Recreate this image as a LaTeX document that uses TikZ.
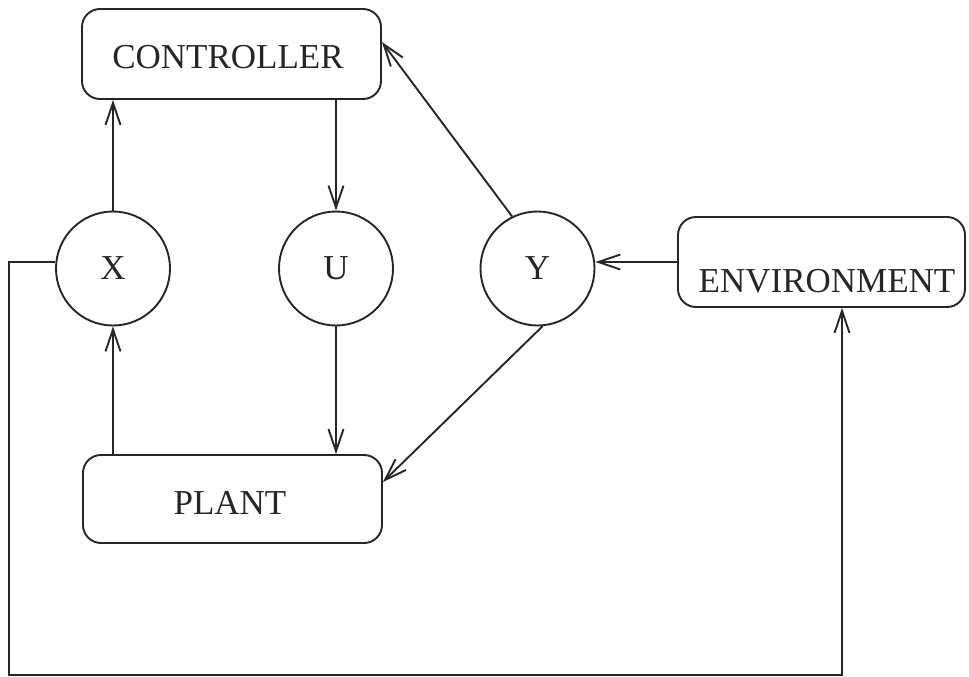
\documentclass[tikz,border=0pt]{standalone}
\usepackage{fontspec}
\setmainfont{Liberation Serif}
\usetikzlibrary{arrows.meta}
\begin{document}
\begin{tikzpicture}[x=1pt,y=-1pt,
  line width=1.9pt, draw=black!85,
  box/.style={draw, rounded corners=18pt, inner sep=0pt},
  circ/.style={draw, circle, inner sep=0pt, minimum size=114pt},
  lbl/.style={font=\fontsize{35}{40}\selectfont, text=black!85, inner sep=0pt},
  arr/.style={-{Straight Barb[length=22pt,width=15pt,line width=1.9pt]}, black!85}]
\useasboundingbox (0,0) rectangle (969,677);
% boxes
\node[box, minimum width=299pt, minimum height=90pt] (ctrl) at (231.5,54) {};
\node[box, minimum width=299pt, minimum height=88pt] (plant) at (232.5,499) {};
\node[box, minimum width=287pt, minimum height=90pt] (env) at (821.5,262) {};
\node[lbl] (tctrl) at (228,57) {CONTROLLER};
\node[lbl] (tplant) at (230,503) {PLANT};
\node[lbl] (tenv) at (827,281) {ENVIRONMENT};
% circles
\node[circ, lbl, draw] (x) at (113,268.5) {X};
\node[circ, lbl, draw] (u) at (336,268.5) {U};
\node[circ, lbl, draw] (y) at (537.5,268.5) {Y};
% connectors
\draw[arr] (x.north) -- (x.north |- ctrl.south);
\draw[arr] (u.north |- ctrl.south) -- (u.north);
\draw[arr] (u.south) -- (u.south |- plant.north);
\draw[arr] (x.south |- plant.north) -- (x.south);
\draw[arr] (y.116) -- (ctrl.east |- 0,42) coordinate (ct1);
\draw[arr] (y.-85) -- (plant.east |- 0,482) coordinate (pl1);
\draw[arr] (env.west |- 0,262) -- (y.east |- 0,262);
\coordinate (xl) at (x.west |- 0,262);
\coordinate (c1) at (9,262);
\coordinate (c2) at (9,675);
\coordinate (c3) at (842,675);
\draw[arr] (xl) -- (c1) -- (c2) -- (c3) -- (c3 |- env.south);
\end{tikzpicture}
\end{document}
